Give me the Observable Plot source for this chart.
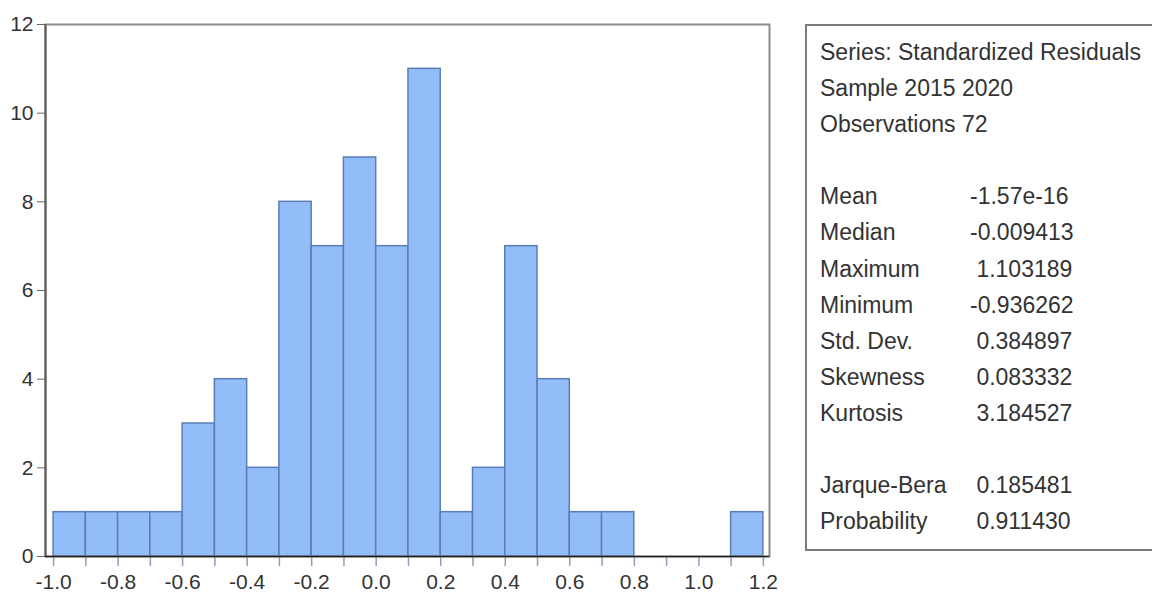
<!DOCTYPE html>
<html>
<head>
<meta charset="utf-8">
<script src="https://cdn.jsdelivr.net/npm/d3@7"></script>
<script src="https://cdn.jsdelivr.net/npm/@observablehq/plot@0.6"></script>
<style>
  html, body { margin: 0; padding: 0; background: #fff; overflow: hidden; }
  #wrap { position: relative; width: 1152px; height: 595px; overflow: hidden; }
  #chart { position: absolute; left: 0; top: 0; }
  #chart svg text { font-size: 21px !important; font-family: "Liberation Sans", Arial, sans-serif !important; }
  #stats {
    position: absolute; left: 805px; top: 24px; width: 400px; height: 527px;
    box-sizing: border-box; border: 2px solid #7c7c7c; background: #fff;
    padding: 8px 0 0 13px;
    font-family: "Liberation Sans", Arial, sans-serif; font-size: 23px; line-height: 36.1px;
    color: #333;
  }
  #stats .row { display: grid; grid-template-columns: 150px auto; white-space: pre; height: 36.1px; }
  #stats .full { white-space: pre; height: 36.1px; }
</style>
</head>
<body>
<div id="wrap">
  <div id="chart"></div>
  <div id="stats"></div>
</div>
<script>
// ---- data ----
const binEdges = [-1.0, -0.9, -0.8, -0.7, -0.6, -0.5, -0.4, -0.3, -0.2, -0.1, 0.0,
                  0.1, 0.2, 0.3, 0.4, 0.5, 0.6, 0.7, 0.8, 0.9, 1.0, 1.1, 1.2];
const counts = [1, 1, 1, 1, 3, 4, 2, 8, 7, 9, 7, 11, 1, 2, 7, 4, 1, 1, 0, 0, 0, 1];
const xTickLabels = [-1.0, -0.8, -0.6, -0.4, -0.2, 0.0, 0.2, 0.4, 0.6, 0.8, 1.0, 1.2];
const yTicks = [0, 2, 4, 6, 8, 10, 12];

const headerLines = ["Series: Standardized Residuals", "Sample 2015 2020", "Observations 72"];
const statLabels = ["Mean", "Median", "Maximum", "Minimum", "Std. Dev.", "Skewness", "Kurtosis"];
const statValues = ["-1.57e-16", "-0.009413", "1.103189", "-0.936262", "0.384897", "0.083332", "3.184527"];
const testLabels = ["Jarque-Bera", "Probability"];
const testValues = ["0.185481", "0.911430"];

// ---- chart ----
const bars = counts.map((c, i) => ({x1: binEdges[i], x2: binEdges[i + 1], count: c})).filter(d => d.count > 0);
const xDomain = [-1.025, 1.219];

const plot = Plot.plot({
  width: 1152,
  height: 595,
  marginLeft: 45,
  marginRight: 383,
  marginTop: 24,
  marginBottom: 39,
  style: {fontFamily: "'Liberation Sans', Arial, sans-serif", fontSize: "21px", color: "#333", background: "#fff"},
  x: {domain: xDomain, label: null},
  y: {domain: [0, 12], label: null},
  marks: [
    Plot.rectY(bars, {x1: "x1", x2: "x2", y: "count", fill: "#93bdf8", stroke: "#5a7db5", strokeWidth: 1.5}),
    Plot.frame({stroke: "#8c8c8c", strokeWidth: 2}),
    Plot.ruleX([xDomain[0]], {stroke: "#5a5a5a", strokeWidth: 2}),
    Plot.axisX({ticks: binEdges, tickSize: 10, tickFormat: () => "", label: null, stroke: "#8fa0b8", strokeWidth: 1.5}),
    Plot.axisX({ticks: xTickLabels, tickSize: 0, tickPadding: 18, label: null, fontSize: 21, tickFormat: d => d.toFixed(1), fill: "#333"}),
    Plot.axisY({ticks: yTicks, tickSize: 8, tickPadding: 4, label: null, fontSize: 21, tickFormat: d => String(d), stroke: "#666", fill: "#333"}),
    Plot.ruleY([0], {stroke: "#222", strokeWidth: 1.5})
  ]
});
document.getElementById("chart").appendChild(plot);

// ---- stats panel ----
const panel = document.getElementById("stats");
function addFull(text) {
  const d = document.createElement("div");
  d.className = "full";
  d.textContent = text;
  panel.appendChild(d);
}
function addRow(label, value) {
  const d = document.createElement("div");
  d.className = "row";
  const a = document.createElement("span");
  a.textContent = label;
  const b = document.createElement("span");
  b.textContent = value.startsWith("-") ? value : "\u00A0" + value;
  d.appendChild(a); d.appendChild(b);
  panel.appendChild(d);
}
headerLines.forEach(addFull);
addFull("");
statLabels.forEach((l, i) => addRow(l, statValues[i]));
addFull("");
testLabels.forEach((l, i) => addRow(l, testValues[i]));
</script>
</body>
</html>
